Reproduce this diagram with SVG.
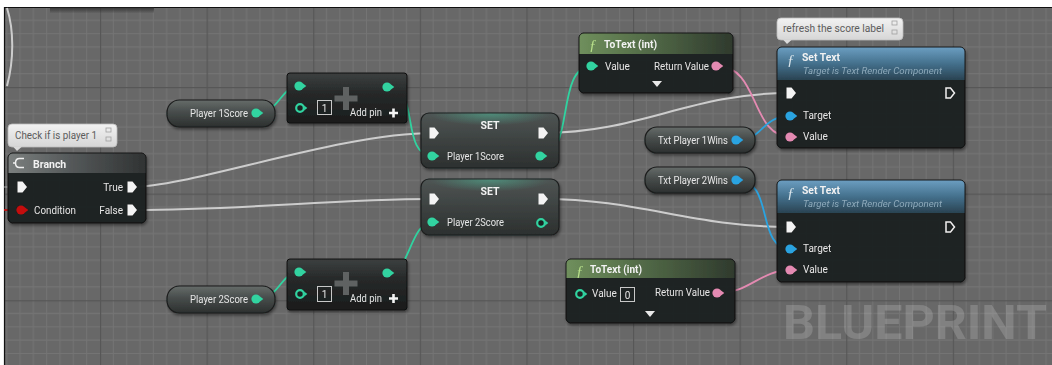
<svg xmlns="http://www.w3.org/2000/svg" width="1052" height="365" viewBox="0 0 1052 365">
<style>
text{font-family:Roboto,"Liberation Sans",sans-serif;font-size:10px;fill:#e6e6e6}
.b{font-weight:bold}
.h{font-size:10.5px;font-weight:bold;fill:#f2f2f2}
.cm{fill:#5c5c5c;font-size:10px}
.sub{font-style:italic;fill:#8eaabb;font-size:9.5px}
.fn{font-family:"Liberation Serif",serif;font-style:italic;font-size:15px;fill:#d8e4ea}
.body{fill:#1d2020;fill-opacity:.97;stroke:#0e0f0f;stroke-width:1}
.pill{fill:url(#gPill);stroke:#1a1c1c;stroke-width:1.2}
.setn{fill:url(#gSet);stroke:#1c1e1e;stroke-width:1.2}
.addn{fill:url(#gAdd);stroke:#0e0f0f;stroke-width:1}
.cmt{fill:url(#gCmt);stroke:#bdbdbd;stroke-width:.8}
.ex{fill:none;stroke:#dedede;stroke-width:2;stroke-opacity:.85}
.tw{fill:none;stroke:#30d3a0;stroke-width:1.8}
.pw{fill:none;stroke:#e48ab2;stroke-width:1.8}
.bw{fill:none;stroke:#2aa3e0;stroke-width:1.8}
.box{fill:none;stroke:#c8c8c8;stroke-width:1}
</style>
<defs>
<pattern id="grid" patternUnits="userSpaceOnUse" x="100" y="87" width="106.6" height="106.6">
<rect width="106.6" height="106.6" fill="#686868"/>
<path d="M13.325,0V106.6M26.65,0V106.6M39.975,0V106.6M53.3,0V106.6M66.625,0V106.6M79.95,0V106.6M93.275,0V106.6M0,13.325H106.6M0,26.65H106.6M0,39.975H106.6M0,53.3H106.6M0,66.625H106.6M0,79.95H106.6M0,93.275H106.6" stroke="#747474" stroke-width="1" fill="none"/>
<path d="M0.5,0V106.6M0,0.5H106.6" stroke="#575757" stroke-width="1.4" fill="none"/>
</pattern>
<linearGradient id="gPill" x1="0" y1="0" x2="0" y2="1">
<stop offset="0" stop-color="#666c6a"/><stop offset=".45" stop-color="#474c4b"/><stop offset="1" stop-color="#2c302f"/>
</linearGradient>
<linearGradient id="gSet" x1="0" y1="0" x2="0" y2="1">
<stop offset="0" stop-color="#4f5554"/><stop offset=".5" stop-color="#3d4241"/><stop offset="1" stop-color="#2c302f"/>
</linearGradient>
<radialGradient id="gGlow" cx=".5" cy="0" r=".5">
<stop offset="0" stop-color="#4fd0a8" stop-opacity=".45"/><stop offset="1" stop-color="#4fd0a8" stop-opacity="0"/>
</radialGradient>
<linearGradient id="gAdd" x1="0" y1="0" x2="0" y2="1">
<stop offset="0" stop-color="#3c4040"/><stop offset=".4" stop-color="#262929"/><stop offset="1" stop-color="#1a1c1c"/>
</linearGradient>
<linearGradient id="gBr" x1="0" y1="0" x2="1" y2="0">
<stop offset="0" stop-color="#7b7f7e"/><stop offset=".45" stop-color="#55595a"/><stop offset="1" stop-color="#303333"/>
</linearGradient>
<linearGradient id="gGr" x1="0" y1="0" x2="1" y2="0">
<stop offset="0" stop-color="#6f8f5c"/><stop offset=".5" stop-color="#4f6645"/><stop offset="1" stop-color="#2f3a2d"/>
</linearGradient>
<linearGradient id="gBl" x1="0" y1="0" x2="0" y2="1">
<stop offset="0" stop-color="#6b9dc0"/><stop offset=".5" stop-color="#44708c"/><stop offset="1" stop-color="#2a4352"/>
</linearGradient>
<linearGradient id="gCmt" x1="0" y1="0" x2="0" y2="1">
<stop offset="0" stop-color="#f2f2f2"/><stop offset="1" stop-color="#d6d6d6"/>
</linearGradient>
<linearGradient id="gTop" x1="0" y1="0" x2="0" y2="1">
<stop offset="0" stop-color="#2a2a2a" stop-opacity=".8"/><stop offset="1" stop-color="#2a2a2a" stop-opacity="0"/>
</linearGradient>
<filter id="sh" x="-10%" y="-10%" width="120%" height="130%">
<feDropShadow dx="1" dy="2" stdDeviation="1.8" flood-color="#000" flood-opacity=".45"/>
</filter>
<path id="ex" d="M-4.5,-5.5H0.5L5,0L0.5,5.5H-4.5Z"/>
<path id="exo" d="M-4,-5H0.5L4.5,0L0.5,5H-4Z" fill="none" stroke="#f0f0f0" stroke-width="1.5"/>
<g id="dp"><circle r="4.6"/><path d="M3.4,-2.9L7.3,0L3.4,2.9Z"/></g>
<g id="hp"><circle r="3.8" fill="#1d2020" stroke-width="2.2"/><path d="M4.2,-2.6L7.3,0L4.2,2.6Z" stroke="none"/></g>
</defs>

<rect x="0" y="0" width="1052" height="365" fill="#ffffff"/>
<rect x="4" y="7" width="1048" height="358" fill="url(#grid)"/>
<path d="M4.5,7V365M4,7.5H1052" stroke="#111" stroke-width="1.2" fill="none"/>
<rect x="50" y="7.5" width="104" height="6" fill="url(#gTop)"/>

<g id="watermark">
<text x="783" y="339" textLength="264" lengthAdjust="spacingAndGlyphs" style="font-size:48px;font-weight:bold;fill:#ffffff;fill-opacity:.17">BLUEPRINT</text>
</g>

<g id="connectors">
<path class="ex" d="M7,8C14,30 14,60 7,86" stroke-opacity=".7"/>
<path d="M4,210H18" stroke="#c41010" stroke-width="1.8"/>
<path d="M4,187H17" stroke="#cfcfcf" stroke-width="1.4" stroke-opacity=".5"/>
<path class="ex" d="M132,187C190,187 340,133 433,133"/>
<path class="ex" d="M132,210C250,210 330,199 433,199"/>
<path class="ex" d="M543,133C640,133 690,93 790,93"/>
<path class="ex" d="M543,199C640,199 690,227 790,227"/>
<path class="tw" d="M257,113C280,113 280,86 300,86"/>
<path class="tw" d="M389,87C420,87 400,156 433,156"/>
<path class="tw" d="M541,156C575,156 555,66 592,66"/>
<path class="tw" d="M389,273C410,273 410,222 433,222"/>
<path class="tw" d="M257,299C280,299 280,272 300,272"/>
<path class="pw" d="M717,66C760,66 750,137 791,137"/>
<path class="pw" d="M718,293C750,293 760,270 791,270"/>
<path class="bw" d="M737,140C765,140 760,116 791,116"/>
<path class="bw" d="M737,180C775,180 755,249 791,249"/>
</g>

<g id="comment-check">
<rect class="cmt" x="8" y="124" width="109" height="23" rx="4"/>
<path d="M13,146.5H22L17,151Z" fill="#dadada"/>
<text class="cm" x="15" y="139" textLength="82" lengthAdjust="spacingAndGlyphs">Check if is player 1</text>
<rect x="106" y="128" width="5" height="4" fill="none" stroke="#a0a0a0" stroke-width=".8"/>
<rect x="106" y="137" width="5" height="4" fill="none" stroke="#a0a0a0" stroke-width=".8"/>
</g>

<g id="branch" filter="url(#sh)">
<rect class="body" x="8" y="153" width="138" height="70" rx="5"/>
<path d="M8.5,173V158Q8.5,153.5 13,153.5H141Q145.5,153.5 145.5,158V173Z" fill="url(#gBr)"/>
<path d="M24,158.5H19.5Q15.5,158.5 15.5,163Q15.5,167.5 19.5,167.5H24M15.5,163H13" fill="none" stroke="#f0f0f0" stroke-width="1.5"/>
<text class="h" x="33" y="168">Branch</text>
<use href="#ex" x="22" y="187" fill="#f4f4f4"/>
<text x="123" y="191" text-anchor="end">True</text>
<use href="#ex" x="132" y="187" fill="#f4f4f4"/>
<use href="#dp" x="21" y="210" fill="#c40d0d"/>
<text x="34" y="214" textLength="42" lengthAdjust="spacingAndGlyphs">Condition</text>
<text x="123" y="214" text-anchor="end">False</text>
<use href="#ex" x="132" y="210" fill="#f4f4f4"/>
</g>

<g id="p1score" filter="url(#sh)">
<rect class="pill" x="167" y="100" width="108" height="27" rx="12.5"/>
<text x="190" y="117" textLength="58" lengthAdjust="spacingAndGlyphs">Player 1Score</text>
<use href="#dp" x="256" y="113" fill="#30d3a0"/>
</g>

<g id="add1" filter="url(#sh)">
<rect class="addn" x="287" y="73" width="120" height="50" rx="3"/>
<path d="M343,87H349V95.5H357.5V101.5H349V110H343V101.5H334.5V95.5H343Z" fill="#5f6262"/>
<use href="#dp" x="299" y="86" fill="#30d3a0"/>
<use href="#dp" x="387" y="87" fill="#30d3a0"/>
<use href="#hp" x="300" y="108" fill="#30d3a0" stroke="#30d3a0"/>
<rect class="box" x="317.5" y="100.5" width="14" height="14"/>
<text x="324.5" y="111.5" text-anchor="middle">1</text>
<text x="350" y="116" textLength="32" lengthAdjust="spacingAndGlyphs">Add pin</text>
<path d="M389,113H398M393.5,108.5V117.5" stroke="#f4f4f4" stroke-width="2.6"/>
</g>

<g id="set1" filter="url(#sh)">
<rect class="setn" x="421" y="113" width="138" height="55" rx="8"/>
<rect x="430" y="113.5" width="120" height="24" fill="url(#gGlow)"/>
<text class="h" x="490" y="129" text-anchor="middle">SET</text>
<use href="#ex" x="434" y="133" fill="#f4f4f4"/>
<use href="#ex" x="543" y="133" fill="#f4f4f4"/>
<use href="#dp" x="432" y="156" fill="#30d3a0"/>
<text x="447" y="160" textLength="57" lengthAdjust="spacingAndGlyphs">Player 1Score</text>
<use href="#dp" x="540" y="156" fill="#30d3a0"/>
</g>

<g id="set2" filter="url(#sh)">
<rect class="setn" x="421" y="179" width="138" height="56" rx="8"/>
<rect x="430" y="179.5" width="120" height="24" fill="url(#gGlow)"/>
<text class="h" x="490" y="195" text-anchor="middle">SET</text>
<use href="#ex" x="434" y="199" fill="#f4f4f4"/>
<use href="#ex" x="543" y="199" fill="#f4f4f4"/>
<use href="#dp" x="432" y="222" fill="#30d3a0"/>
<text x="447" y="226" textLength="57" lengthAdjust="spacingAndGlyphs">Player 2Score</text>
<use href="#hp" x="541" y="223" fill="#30d3a0" stroke="#30d3a0"/>
</g>

<g id="p2score" filter="url(#sh)">
<rect class="pill" x="167" y="286" width="108" height="27" rx="12.5"/>
<text x="190" y="303" textLength="58" lengthAdjust="spacingAndGlyphs">Player 2Score</text>
<use href="#dp" x="256" y="299" fill="#30d3a0"/>
</g>

<g id="add2" filter="url(#sh)">
<rect class="addn" x="287" y="259" width="120" height="51" rx="3"/>
<path d="M343,272H349V280.5H357.5V286.5H349V295H343V286.5H334.5V280.5H343Z" fill="#5f6262"/>
<use href="#dp" x="299" y="272" fill="#30d3a0"/>
<use href="#dp" x="387" y="273" fill="#30d3a0"/>
<use href="#hp" x="300" y="294" fill="#30d3a0" stroke="#30d3a0"/>
<rect class="box" x="317.5" y="286.5" width="14" height="15"/>
<text x="324.5" y="298" text-anchor="middle">1</text>
<text x="350" y="302" textLength="32" lengthAdjust="spacingAndGlyphs">Add pin</text>
<path d="M389,298.5H398M393.5,294V303" stroke="#f4f4f4" stroke-width="2.6"/>
</g>

<g id="totext1" filter="url(#sh)">
<rect class="body" x="579" y="33" width="154" height="60" rx="5"/>
<path d="M579.5,54V38Q579.5,33.5 584,33.5H728Q732.5,33.5 732.5,38V54Z" fill="url(#gGr)"/>
<text class="fn" x="589" y="50" style="fill:#b8e08a">ƒ</text>
<text class="h" x="604" y="48" textLength="53" lengthAdjust="spacingAndGlyphs">ToText (int)</text>
<use href="#dp" x="591" y="66" fill="#30d3a0"/>
<text x="605" y="70">Value</text>
<text x="709" y="70" text-anchor="end" textLength="55" lengthAdjust="spacingAndGlyphs">Return Value</text>
<use href="#dp" x="716" y="66" fill="#e48ab2"/>
<path d="M652,81H662L657,87Z" fill="#e8e8e8"/>
</g>

<g id="totext2" filter="url(#sh)">
<rect class="body" x="566" y="259" width="169" height="64" rx="5"/>
<path d="M566.5,278V264Q566.5,259.5 571,259.5H730Q734.5,259.5 734.5,264V278Z" fill="url(#gGr)"/>
<text class="fn" x="576" y="276" style="fill:#b8e08a">ƒ</text>
<text class="h" x="590" y="273" textLength="52" lengthAdjust="spacingAndGlyphs">ToText (int)</text>
<use href="#hp" x="580" y="294" fill="#30d3a0" stroke="#30d3a0"/>
<text x="592" y="297">Value</text>
<rect class="box" x="620.5" y="287.5" width="14" height="14"/>
<text x="627.5" y="298.5" text-anchor="middle">0</text>
<text x="710" y="296" text-anchor="end" textLength="55" lengthAdjust="spacingAndGlyphs">Return Value</text>
<use href="#dp" x="717" y="293" fill="#e48ab2"/>
<path d="M645,311H655L650,317Z" fill="#e8e8e8"/>
</g>

<g id="txtp1" filter="url(#sh)">
<rect class="pill" x="645" y="127" width="110" height="26" rx="12"/>
<text x="658" y="144" textLength="70" lengthAdjust="spacingAndGlyphs">Txt Player 1Wins</text>
<use href="#dp" x="736" y="140" fill="#2aa3e0"/>
</g>

<g id="txtp2" filter="url(#sh)">
<rect class="pill" x="645" y="167" width="110" height="26" rx="12"/>
<text x="658" y="184" textLength="70" lengthAdjust="spacingAndGlyphs">Txt Player 2Wins</text>
<use href="#dp" x="736" y="180" fill="#2aa3e0"/>
</g>

<g id="comment-refresh">
<rect class="cmt" x="777" y="18" width="126" height="22" rx="4"/>
<path d="M783,39.5H792L787,44Z" fill="#dadada"/>
<text class="cm" x="783" y="32" textLength="101" lengthAdjust="spacingAndGlyphs">refresh the score label</text>
<rect x="892" y="21" width="5" height="4" fill="none" stroke="#a0a0a0" stroke-width=".8"/>
<rect x="892" y="30" width="5" height="4" fill="none" stroke="#a0a0a0" stroke-width=".8"/>
</g>

<g id="settext1" filter="url(#sh)">
<rect class="body" x="777" y="47" width="188" height="101" rx="5"/>
<path d="M777.5,80V52Q777.5,47.5 782,47.5H960Q964.5,47.5 964.5,52V80Z" fill="url(#gBl)"/>
<text class="fn" x="787" y="65">ƒ</text>
<text class="h" x="802" y="61" textLength="38" lengthAdjust="spacingAndGlyphs">Set Text</text>
<text class="sub" x="803" y="74" textLength="139" lengthAdjust="spacingAndGlyphs">Target is Text Render Component</text>
<use href="#ex" x="791" y="93" fill="#f4f4f4"/>
<use href="#exo" x="950" y="93"/>
<use href="#dp" x="790" y="116" fill="#2aa3e0"/>
<text x="803" y="119">Target</text>
<use href="#dp" x="790" y="137" fill="#e48ab2"/>
<text x="803" y="140">Value</text>
</g>

<g id="settext2" filter="url(#sh)">
<rect class="body" x="777" y="180" width="188" height="102" rx="5"/>
<path d="M777.5,213V185Q777.5,180.5 782,180.5H960Q964.5,180.5 964.5,185V213Z" fill="url(#gBl)"/>
<text class="fn" x="787" y="198">ƒ</text>
<text class="h" x="802" y="194" textLength="38" lengthAdjust="spacingAndGlyphs">Set Text</text>
<text class="sub" x="803" y="207" textLength="139" lengthAdjust="spacingAndGlyphs">Target is Text Render Component</text>
<use href="#ex" x="791" y="227" fill="#f4f4f4"/>
<use href="#exo" x="950" y="227"/>
<use href="#dp" x="790" y="249" fill="#2aa3e0"/>
<text x="803" y="252">Target</text>
<use href="#dp" x="790" y="270" fill="#e48ab2"/>
<text x="803" y="273">Value</text>
</g>
</svg>
